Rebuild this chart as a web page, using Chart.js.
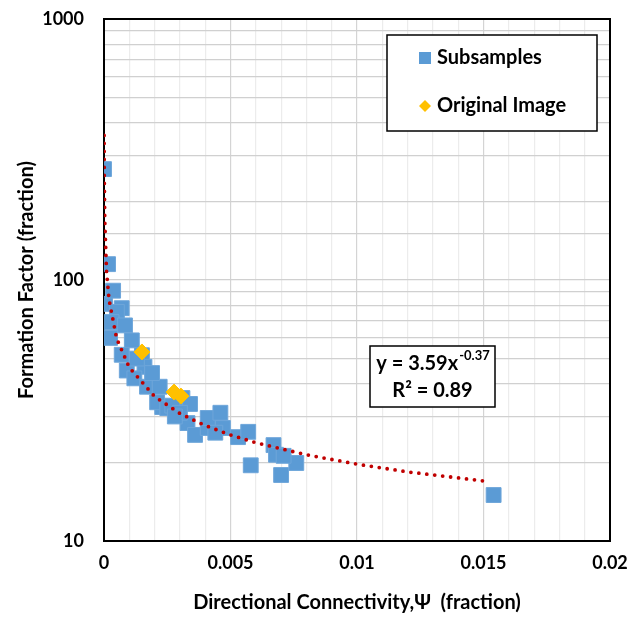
<!DOCTYPE html>
<html>
<head>
<meta charset="utf-8">
<script src="https://cdn.jsdelivr.net/npm/chart.js@4.4.1/dist/chart.umd.min.js"></script>
<style>
  html, body { margin: 0; padding: 0; background: #fff; }
</style>
</head>
<body>
<canvas id="grafico" width="639" height="618"></canvas>
<script>
// Datos
const subX = [0, 0.00016, 0.00004, 0.00036, 0.0007, 0.00051, 0.0003, 0.00083, 0.00024, 0.0011,
              0.0007, 0.0015, 0.0016, 0.0009, 0.0012, 0.0017, 0.0022, 0.0023, 0.0021, 0.0025,
              0.0031, 0.0034, 0.0033, 0.0036, 0.0041, 0.0041, 0.0046, 0.0047, 0.0053, 0.0057,
              0.0067, 0.0068, 0.0076, 0.0058, 0.0070, 0.0154, 0.0019, 0.0013, 0.0027, 0.0030,
              0.0071, 0.0028, 0.0044];
const subY = [266, 115, 81, 91, 78, 75.5, 69, 67, 60, 58.7,
              51.7, 51.5, 46.5, 45, 42, 39, 39, 32.6, 34, 32.3,
              35.3, 33.5, 28.3, 25.5, 27.1, 29.6, 31, 27.1, 25, 26.2,
              23.3, 21.4, 19.9, 19.5, 17.9, 15, 44, 50, 33, 31,
              21.2, 30, 26];

const origX = [0.0015, 0.00277, 0.00304];
const origY = [53, 37.2, 35.9];

// línea de tendencia (potencial)
const trendX = [0.000004, 0.00001, 0.00003, 0.0001, 0.0002, 0.0005, 0.001, 0.002, 0.003,
                0.004, 0.005, 0.006, 0.008, 0.010, 0.012, 0.0152];
const trendY = [358, 254, 169, 108, 84, 59.7, 46.2, 35.8, 30.8,
                27.7, 25.5, 23.8, 21.4, 19.7, 18.4, 16.9];

const xTicks = [0, 0.005, 0.01, 0.015, 0.02];
const yTicks = [10, 100, 1000];

const FUENTE = 'Lato, Carlito, Calibri, "Open Sans", sans-serif';

const toPoints = (xs, ys) => xs.map((x, i) => ({ x: x, y: ys[i] }));

// Marco, leyenda y ecuación
const cajas = {
  id: 'cajas',
  beforeDatasetsDraw(chart) {
    const { ctx, chartArea: a } = chart;
    ctx.save();
    ctx.strokeStyle = '#000';
    ctx.lineWidth = 2;
    ctx.strokeRect(a.left, a.top, a.right - a.left, a.bottom - a.top);
    ctx.restore();
  },
  afterDraw(chart) {
    const { ctx } = chart;
    const ds = chart.data.datasets;
    ctx.save();
    // leyenda
    ctx.fillStyle = '#fff';
    ctx.fillRect(387, 35, 210, 96);
    ctx.strokeStyle = '#000';
    ctx.lineWidth = 1.5;
    ctx.strokeRect(387, 35, 210, 96);

    ctx.fillStyle = '#5b9bd5';
    ctx.fillRect(419, 52, 12, 12);
    ctx.fillStyle = '#ffc000';
    ctx.beginPath();
    ctx.moveTo(425, 100); ctx.lineTo(431, 106); ctx.lineTo(425, 112); ctx.lineTo(419, 106);
    ctx.closePath();
    ctx.fill();

    ctx.fillStyle = '#000';
    ctx.font = 'bold 20px ' + FUENTE;
    ctx.textBaseline = 'middle';
    ctx.textAlign = 'left';
    ctx.fillText(ds[2].label, 437, 58);
    ctx.fillText(ds[1].label, 437, 106);

    // ecuación
    ctx.fillStyle = '#fff';
    ctx.fillRect(370, 346, 125, 61);
    ctx.strokeRect(370, 346, 125, 61);
    ctx.fillStyle = '#000';
    const base = 'y = 3.59x', sup = '-0.37';
    ctx.font = 'bold 20px ' + FUENTE;
    const w1 = ctx.measureText(base).width;
    ctx.font = 'bold 13px ' + FUENTE;
    const w2 = ctx.measureText(sup).width;
    const x0 = 432.5 - (w1 + w2) / 2;
    ctx.font = 'bold 20px ' + FUENTE;
    ctx.fillText(base, x0, 364);
    ctx.font = 'bold 13px ' + FUENTE;
    ctx.fillText(sup, x0 + w1 + 1, 356);
    ctx.font = 'bold 20px ' + FUENTE;
    ctx.textAlign = 'center';
    ctx.fillText('R² = 0.89', 432.5, 391);
    ctx.restore();
  }
};

new Chart(document.getElementById('grafico'), {
  type: 'scatter',
  data: {
    datasets: [
      {
        label: 'Tendencia',
        type: 'line',
        data: toPoints(trendX, trendY),
        borderColor: '#c00000',
        borderWidth: 3.8,
        borderDash: [0, 8],
        borderCapStyle: 'round',
        pointRadius: 0,
        fill: false,
        tension: 0,
        order: 0
      },
      {
        label: 'Original Image',
        data: toPoints(origX, origY),
        pointStyle: 'rectRot',
        pointRadius: 8,
        backgroundColor: '#ffc000',
        borderColor: '#ffc000',
        borderWidth: 1,
        order: 1
      },
      {
        label: 'Subsamples',
        data: toPoints(subX, subY),
        pointStyle: 'rect',
        pointRadius: 10.5,
        backgroundColor: '#5b9bd5',
        borderColor: '#6ea6da',
        borderWidth: 1,
        order: 2
      }
    ]
  },
  options: {
    responsive: false,
    animation: false,
    layout: { padding: { top: 19, right: 29, left: 0, bottom: 0 } },
    plugins: {
      legend: { display: false },
      tooltip: { enabled: false }
    },
    scales: {
      x: {
        type: 'linear',
        min: 0,
        max: 0.02,
        afterFit: s => { s.height = 77; },
        ticks: {
          stepSize: 0.001,
          autoSkip: false,
          maxRotation: 0,
          padding: 11,
          color: '#000',
          font: { family: FUENTE, size: 18, weight: 'bold' },
          callback: v => {
            const r = +v.toFixed(4);
            return xTicks.some(t => Math.abs(t - r) < 1e-9) ? String(r) : '';
          }
        },
        grid: {
          drawTicks: false,
          lineWidth: 1.2,
          color: c => {
            const r = c.tick ? +c.tick.value.toFixed(4) : 0;
            return xTicks.some(t => Math.abs(t - r) < 1e-9) ? '#d4d4d4' : '#ececec';
          }
        },
        border: { display: false },
        title: {
          display: true,
          text: 'Directional Connectivity,Ψ  (fraction)',
          color: '#000',
          font: { family: FUENTE, size: 20, weight: 'bold' },
          padding: { top: 0, bottom: 3 }
        }
      },
      y: {
        type: 'logarithmic',
        min: 10,
        max: 1000,
        afterFit: s => { s.width = 104; s.paddingTop = 0; s.paddingBottom = 0; },
        ticks: {
          autoSkip: false,
          padding: 20,
          color: '#000',
          font: { family: FUENTE, size: 18, weight: 'bold' },
          callback: v => yTicks.includes(Math.round(v)) ? String(Math.round(v)) : ''
        },
        grid: {
          drawTicks: false,
          lineWidth: 1.2,
          color: '#d0d0d0'
        },
        border: { display: false },
        title: {
          display: true,
          text: 'Formation Factor (fraction)',
          color: '#000',
          font: { family: FUENTE, size: 20, weight: 'bold' },
          padding: { top: 15, bottom: 0 }
        }
      }
    }
  },
  plugins: [cajas]
});
</script>
</body>
</html>
